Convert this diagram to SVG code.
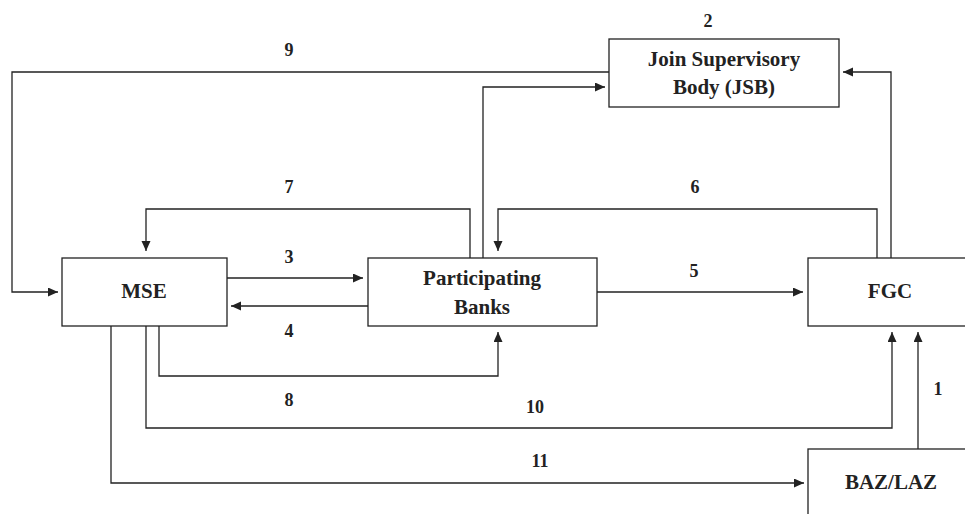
<svg xmlns="http://www.w3.org/2000/svg" width="965" height="514" viewBox="0 0 965 514">
<style>
.box{fill:#fff;stroke:#222;stroke-width:1.3}
.t{font-family:"Liberation Serif","Times New Roman",serif;font-weight:bold;font-size:21px;fill:#222;text-anchor:middle}
.lb{font-family:"Liberation Serif","Times New Roman",serif;font-weight:bold;font-size:18px;fill:#222;text-anchor:middle}
.c{fill:none;stroke:#222;stroke-width:1.3;marker-end:url(#ah)}
</style>
<defs>
<marker id="ah" markerUnits="userSpaceOnUse" markerWidth="11" markerHeight="10" refX="10" refY="4.5" orient="auto">
<path d="M0,0 L10,4.5 L0,9 z" fill="#222"/>
</marker>
</defs>
<rect width="965" height="514" fill="#fff"/>
<g id="connectors">
<path class="c" d="M609,72 H12 V292 H58"/>
<path class="c" d="M483,258 V87 H605"/>
<path class="c" d="M891,258 V72 H843"/>
<path class="c" d="M470,258 V209 H146 V251"/>
<path class="c" d="M877,258 V209 H498 V251"/>
<path class="c" d="M227,278 H363"/>
<path class="c" d="M368,306 H231"/>
<path class="c" d="M597,292 H803"/>
<path class="c" d="M159,326 V376 H498 V332"/>
<path class="c" d="M146,326 V428 H892 V332"/>
<path class="c" d="M918,449 V332"/>
<path class="c" d="M111,326 V483 H804"/>
</g>
<g id="labels">
<text class="lb" x="289" y="56">9</text>
<text class="lb" x="708" y="27">2</text>
<text class="lb" x="289" y="193">7</text>
<text class="lb" x="695" y="193">6</text>
<text class="lb" x="289" y="263">3</text>
<text class="lb" x="694" y="277">5</text>
<text class="lb" x="289" y="337">4</text>
<text class="lb" x="289" y="406">8</text>
<text class="lb" x="535" y="413">10</text>
<text class="lb" x="938" y="395">1</text>
<text class="lb" x="540" y="467">11</text>
</g>
<g id="jsb">
<rect class="box" x="609" y="39" width="230" height="68"/>
<text class="t" x="724" y="66">Join Supervisory</text>
<text class="t" x="724" y="94">Body (JSB)</text>
</g>
<g id="mse">
<rect class="box" x="62" y="258" width="165" height="68"/>
<text class="t" x="144" y="298">MSE</text>
</g>
<g id="pb">
<rect class="box" x="368" y="258" width="229" height="68"/>
<text class="t" x="482" y="285">Participating</text>
<text class="t" x="482" y="314">Banks</text>
</g>
<g id="fgc">
<rect class="box" x="808" y="258" width="165" height="68"/>
<text class="t" x="890" y="298">FGC</text>
</g>
<g id="baz">
<rect class="box" x="808" y="449" width="165" height="80"/>
<text class="t" x="891" y="489">BAZ/LAZ</text>
</g>
</svg>
